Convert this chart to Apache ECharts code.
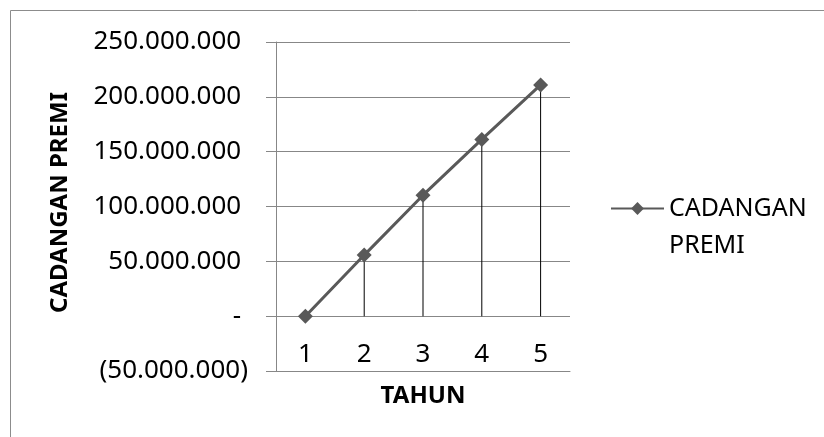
<!DOCTYPE html>
<html>
<head>
<meta charset="utf-8">
<script src="https://cdn.jsdelivr.net/npm/echarts@6/dist/echarts.min.js"></script>
<style>
  html, body { margin: 0; padding: 0; background: #fff; }
  #chart { width: 824px; height: 437px; }
</style>
</head>
<body>
<div id="chart"></div>
<script>
// Premium reserve per year
const years = ['1', '2', '3', '4', '5'];
const reserve = [0, 55700000, 110300000, 161200000, 210900000];
const seriesName = 'CADANGAN PREMI';
const legendLines = ['CADANGAN', 'PREMI'];
const xTitle = 'TAHUN';
const yTitle = 'CADANGAN PREMI';
const yMin = -50000000;
const yMax = 250000000;
const yStep = 50000000;

const FONT = 'Noto Sans';
const GRID_GRAY = '#878787';

// Accounting-style tick text: dots for thousands, brackets for negatives, dash for zero
function accounting(v) {
  if (v === 0) return '- ';
  const s = Math.abs(v).toString().replace(/\B(?=(\d{3})+(?!\d))/g, '.');
  return v < 0 ? '(' + s + ')' : s + ' ';
}

const chart = echarts.init(document.getElementById('chart'), null, { renderer: 'canvas' });

chart.setOption({
  backgroundColor: '#ffffff',
  animation: false,
  textStyle: { fontFamily: FONT },
  graphic: [{
    type: 'rect',
    shape: { x: 10.5, y: 10.5, width: 900, height: 600 },
    style: { fill: 'none', stroke: '#8c8c8c', lineWidth: 1 },
    silent: true,
    z: -10
  }],
  grid: { left: 276, right: 254, top: 42, bottom: 66, containLabel: false, outerBoundsMode: 'none' },
  legend: {
    data: [seriesName],
    left: 610,
    top: 153,
    padding: 0,
    itemWidth: 53,
    itemHeight: 16,
    // leading blank line keeps the first word level with the marker
    formatter: () => '\n' + legendLines.join('\n'),
    textStyle: { fontFamily: FONT, fontSize: 25, color: '#000', lineHeight: 37 }
  },
  xAxis: {
    type: 'category',
    data: years,
    boundaryGap: true,
    name: xTitle,
    nameLocation: 'middle',
    nameGap: 13,
    nameTextStyle: { fontFamily: FONT, fontSize: 24, fontWeight: 'bold', color: '#000' },
    axisLine: { onZero: false, lineStyle: { color: GRID_GRAY, width: 1 } },
    axisTick: { show: false },
    // category labels sit just under the zero line, above the lowest gridline
    axisLabel: { inside: true, fontFamily: FONT, fontSize: 26, color: '#000', margin: 3 },
    splitLine: { show: false }
  },
  yAxis: {
    type: 'value',
    min: yMin,
    max: yMax,
    interval: yStep,
    name: yTitle,
    nameLocation: 'middle',
    nameRotate: 90,
    nameGap: 204,
    nameTextStyle: { fontFamily: FONT, fontSize: 24, fontWeight: 'bold', color: '#000', padding: [0, 0, 0, 8] },
    axisLine: { show: true, lineStyle: { color: GRID_GRAY, width: 1 } },
    axisTick: { show: true, length: 10, lineStyle: { color: GRID_GRAY } },
    axisLabel: { fontFamily: FONT, fontSize: 26, color: '#000', margin: 28, formatter: accounting },
    splitLine: { show: true, lineStyle: { color: GRID_GRAY, width: 1 } }
  },
  series: [
    {
      // drop lines from each point to the zero line
      name: 'drop',
      type: 'bar',
      data: reserve,
      barWidth: 1,
      itemStyle: { color: '#000' },
      silent: true,
      z: 2
    },
    {
      name: seriesName,
      type: 'line',
      data: reserve,
      symbol: 'diamond',
      symbolSize: 15,
      lineStyle: { color: '#595959', width: 3 },
      itemStyle: { color: '#595959' },
      z: 3
    }
  ]
});
</script>
</body>
</html>
